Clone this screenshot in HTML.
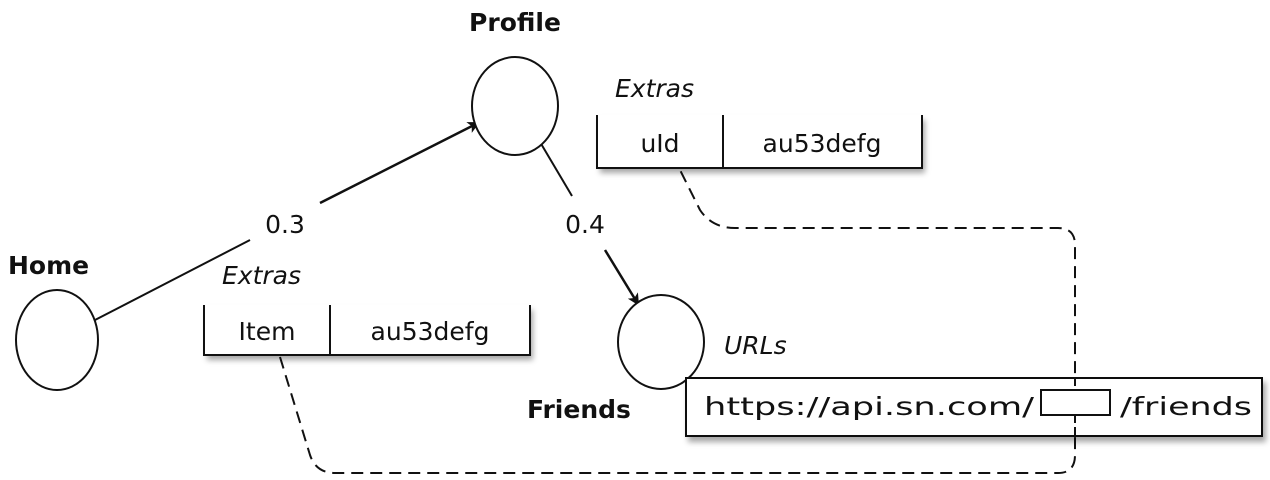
<!DOCTYPE html>
<html><head><meta charset="utf-8"><style>
html,body{margin:0;padding:0;background:#fff;}
svg{display:block;}
text{font-family:"DejaVu Sans","Liberation Sans",sans-serif;fill:#111;}
.b{font-weight:bold;font-size:25px;}
.n{font-size:25px;}
.i{font-style:italic;font-size:25px;}
</style></head><body>
<svg width="1270" height="480" viewBox="0 0 1270 480" xmlns="http://www.w3.org/2000/svg">
<defs>
<filter id="sh" x="-10%" y="-10%" width="130%" height="150%"><feDropShadow dx="3" dy="5" stdDeviation="3" flood-color="#000" flood-opacity="0.35"/></filter>
<marker id="ar" markerWidth="12" markerHeight="12" refX="10" refY="6" orient="auto" markerUnits="userSpaceOnUse" viewBox="0 0 12 12"><path d="M0,0 L12,6 L0,12 L3,6 z" fill="#111"/></marker>
</defs>
<g fill="none" stroke="#111" stroke-width="2">
<!-- dashed connectors -->
<path d="M280,357 L310,455 Q316,473 335,473 L1058,473 Q1075,473 1075,455 L1075,245 Q1075,228 1058,228 L735,228 Q712,228 700,210 L680,170" stroke-dasharray="12,7"/>
<!-- Home->Profile -->
<line x1="95" y1="320" x2="250" y2="240"/>
<line x1="320" y1="203" x2="478" y2="123" marker-end="url(#ar)" stroke-width="2.5"/>
<!-- Profile->Friends -->
<line x1="540" y1="142" x2="572" y2="196"/>
<line x1="605" y1="250" x2="638" y2="304" marker-end="url(#ar)" stroke-width="2.5"/>
<!-- circles -->
<ellipse cx="57" cy="340" rx="41" ry="50" fill="#fff"/>
<ellipse cx="515" cy="106" rx="43" ry="49" fill="#fff"/>
<ellipse cx="661" cy="342" rx="43" ry="47" fill="#fff"/>
</g>
<!-- Extras box 1 -->
<rect x="204" y="305" width="326" height="50" fill="#fff" filter="url(#sh)"/>
<path d="M204,305 L204,355 L530,355 L530,305 M330,305 L330,355" fill="none" stroke="#111" stroke-width="2"/>
<!-- Extras box 2 -->
<rect x="597" y="115" width="325" height="53" fill="#fff" filter="url(#sh)"/>
<path d="M597,115 L597,168 L922,168 L922,115 M723,115 L723,168" fill="none" stroke="#111" stroke-width="2"/>
<!-- URL box -->
<rect x="686" y="378" width="576" height="58" fill="#fff" stroke="#111" stroke-width="2" filter="url(#sh)"/>
<rect x="1041" y="390" width="69" height="25" fill="#fff" stroke="#111" stroke-width="2"/>
<line x1="1075" y1="378" x2="1075" y2="390" stroke="#111" stroke-width="2" stroke-dasharray="8,4"/>
<line x1="1075" y1="415" x2="1075" y2="436" stroke="#111" stroke-width="2" stroke-dasharray="8,4"/>
<!-- labels -->
<text class="b" x="515" y="31" text-anchor="middle">Profile</text>
<text class="b" x="8" y="274">Home</text>
<text class="b" x="527" y="418">Friends</text>
<text class="n" x="285" y="233" text-anchor="middle">0.3</text>
<text class="n" x="585" y="233" text-anchor="middle">0.4</text>
<text class="i" x="222" y="284">Extras</text>
<text class="i" x="615" y="97">Extras</text>
<text class="i" x="724" y="354">URLs</text>
<text class="n" x="267" y="340" text-anchor="middle">Item</text>
<text class="n" x="430" y="340" text-anchor="middle">au53defg</text>
<text class="n" x="660" y="152" text-anchor="middle">uId</text>
<text class="n" x="822" y="152" text-anchor="middle">au53defg</text>
<text class="n" x="704" y="415" textLength="330" lengthAdjust="spacingAndGlyphs">https://api.sn.com/</text>
<text class="n" x="1120" y="415" textLength="132" lengthAdjust="spacingAndGlyphs">/friends</text>
</svg>
</body></html>
